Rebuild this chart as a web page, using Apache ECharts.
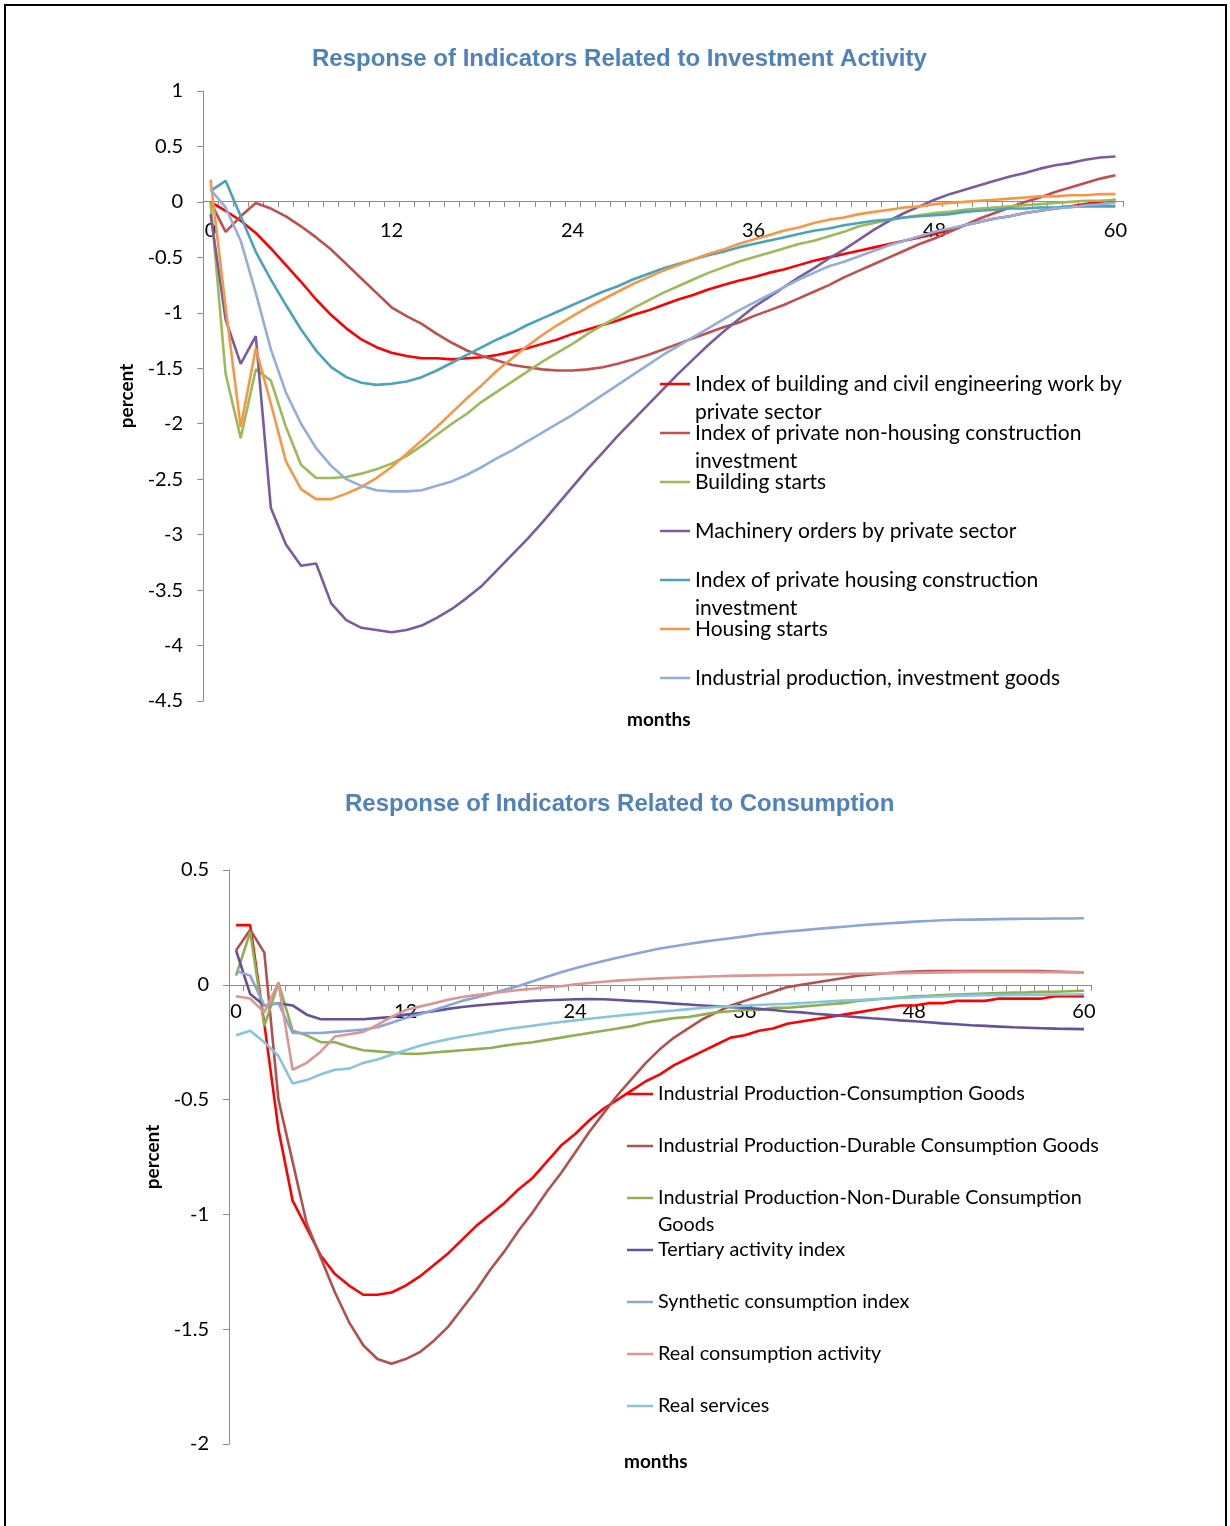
<!DOCTYPE html>
<html>
<head>
<meta charset="utf-8">
<script src="https://cdn.jsdelivr.net/npm/echarts@6/dist/echarts.min.js"></script>
<style>
  html, body { margin: 0; padding: 0; background: #fff; }
  #frame { position: absolute; left: 4px; top: 4px; width: 1223px; height: 1540px; border: 2px solid #000; box-sizing: border-box; }
  #chart { position: absolute; left: 0; top: 0; width: 1230px; height: 1526px; }
</style>
</head>
<body>
<div id="frame"></div>
<div id="chart"></div>
<script>
// ---------- DATA ----------
const months = Array.from({ length: 61 }, (_, i) => String(i));
const xTickLabels = ['0', '12', '24', '36', '48', '60'];

const topTitle = 'Response of Indicators Related to Investment Activity';
const bottomTitle = 'Response of Indicators Related to Consumption';

const topLabels = [
  'Index of building and civil engineering work by\nprivate sector',
  'Index of private non-housing construction\ninvestment',
  'Building starts',
  'Machinery orders by private sector',
  'Index of private housing construction\ninvestment',
  'Housing starts',
  'Industrial production, investment goods'
];
const bottomLabels = [
  'Industrial Production-Consumption Goods',
  'Industrial Production-Durable Consumption Goods',
  'Industrial Production-Non-Durable Consumption\nGoods',
  'Tertiary activity index',
  'Synthetic consumption index',
  'Real consumption activity',
  'Real services'
];

// Top chart series (months 0..60)
const buildingCivilWork = [0, -0.08, -0.17, -0.28, -0.42, -0.57, -0.72, -0.88, -1.02, -1.14, -1.24, -1.31, -1.36, -1.39, -1.41, -1.41, -1.42, -1.41, -1.40, -1.38,
  -1.35, -1.32, -1.28, -1.24, -1.19, -1.15, -1.11, -1.07, -1.02, -0.98, -0.93, -0.88, -0.84, -0.79, -0.75, -0.71, -0.68, -0.64, -0.61, -0.57,
  -0.53, -0.50, -0.47, -0.44, -0.41, -0.38, -0.35, -0.32, -0.29, -0.25, -0.21, -0.18, -0.15, -0.13, -0.10, -0.08, -0.06, -0.04, -0.02, 0.00, 0.02];
const nonHousingInvestment = [0, -0.27, -0.13, -0.01, -0.06, -0.13, -0.22, -0.32, -0.43, -0.56, -0.69, -0.82, -0.95, -1.03, -1.10, -1.19, -1.27, -1.34, -1.39, -1.43,
  -1.47, -1.49, -1.51, -1.52, -1.52, -1.51, -1.49, -1.46, -1.42, -1.38, -1.33, -1.28, -1.23, -1.18, -1.13, -1.09, -1.03, -0.98, -0.93, -0.87,
  -0.81, -0.75, -0.68, -0.62, -0.56, -0.50, -0.44, -0.38, -0.33, -0.27, -0.21, -0.15, -0.10, -0.05, 0.00, 0.04, 0.09, 0.13, 0.17, 0.21, 0.24];
const buildingStarts = [0, -1.55, -2.13, -1.51, -1.61, -2.03, -2.37, -2.49, -2.49, -2.48, -2.45, -2.41, -2.36, -2.29, -2.20, -2.10, -2.00, -1.91, -1.80, -1.71,
  -1.62, -1.53, -1.44, -1.36, -1.28, -1.19, -1.11, -1.04, -0.96, -0.89, -0.82, -0.76, -0.70, -0.64, -0.59, -0.54, -0.50, -0.46, -0.42, -0.38,
  -0.35, -0.31, -0.27, -0.22, -0.19, -0.16, -0.14, -0.12, -0.10, -0.09, -0.07, -0.06, -0.05, -0.04, -0.03, -0.02, -0.01, 0.00, 0.01, 0.01, 0.02];
const machineryOrders = [-0.11, -1.06, -1.46, -1.21, -2.76, -3.09, -3.28, -3.26, -3.62, -3.77, -3.84, -3.86, -3.88, -3.86, -3.82, -3.75, -3.67, -3.57, -3.46, -3.32,
  -3.18, -3.04, -2.89, -2.73, -2.57, -2.41, -2.26, -2.11, -1.97, -1.83, -1.69, -1.55, -1.42, -1.29, -1.17, -1.06, -0.95, -0.86, -0.77, -0.68,
  -0.60, -0.51, -0.43, -0.34, -0.25, -0.17, -0.10, -0.04, 0.02, 0.07, 0.11, 0.15, 0.19, 0.23, 0.26, 0.30, 0.33, 0.35, 0.38, 0.40, 0.41];
const housingInvestment = [0.10, 0.19, -0.13, -0.45, -0.70, -0.93, -1.15, -1.34, -1.49, -1.58, -1.63, -1.65, -1.64, -1.62, -1.58, -1.52, -1.45, -1.38, -1.31, -1.24,
  -1.18, -1.11, -1.05, -0.99, -0.93, -0.87, -0.81, -0.76, -0.70, -0.65, -0.60, -0.56, -0.52, -0.48, -0.45, -0.41, -0.38, -0.35, -0.32, -0.29,
  -0.26, -0.24, -0.21, -0.19, -0.17, -0.16, -0.14, -0.13, -0.12, -0.11, -0.09, -0.08, -0.07, -0.06, -0.06, -0.05, -0.05, -0.04, -0.04, -0.04, -0.04];
const housingStarts = [0.20, -0.95, -2.03, -1.32, -1.82, -2.34, -2.59, -2.68, -2.68, -2.63, -2.57, -2.49, -2.39, -2.27, -2.15, -2.03, -1.90, -1.77, -1.65, -1.52,
  -1.41, -1.30, -1.20, -1.11, -1.03, -0.95, -0.88, -0.81, -0.74, -0.68, -0.62, -0.57, -0.52, -0.47, -0.43, -0.38, -0.34, -0.30, -0.26, -0.23,
  -0.19, -0.16, -0.14, -0.11, -0.09, -0.07, -0.05, -0.04, -0.02, -0.01, 0.00, 0.01, 0.02, 0.03, 0.04, 0.05, 0.05, 0.06, 0.06, 0.07, 0.07];
const ipInvestmentGoods = [0.11, -0.05, -0.35, -0.82, -1.33, -1.72, -2.00, -2.22, -2.38, -2.50, -2.56, -2.60, -2.61, -2.61, -2.60, -2.56, -2.52, -2.46, -2.39, -2.31,
  -2.24, -2.16, -2.08, -2.00, -1.92, -1.83, -1.74, -1.65, -1.56, -1.47, -1.38, -1.30, -1.22, -1.14, -1.06, -0.98, -0.91, -0.84, -0.77, -0.70,
  -0.64, -0.58, -0.54, -0.49, -0.44, -0.39, -0.35, -0.31, -0.27, -0.24, -0.21, -0.18, -0.15, -0.13, -0.10, -0.08, -0.06, -0.05, -0.03, -0.02, -0.01];

// Bottom chart series (months 0..60)
const ipConsumption = [0.26, 0.26, -0.17, -0.63, -0.94, -1.06, -1.18, -1.26, -1.31, -1.35, -1.35, -1.34, -1.31, -1.27, -1.22, -1.17, -1.11, -1.05, -1.00, -0.95,
  -0.89, -0.84, -0.77, -0.70, -0.65, -0.59, -0.54, -0.50, -0.46, -0.42, -0.39, -0.35, -0.32, -0.29, -0.26, -0.23, -0.22, -0.20, -0.19, -0.17,
  -0.16, -0.15, -0.14, -0.13, -0.12, -0.11, -0.10, -0.09, -0.09, -0.08, -0.08, -0.07, -0.07, -0.07, -0.06, -0.06, -0.06, -0.06, -0.05, -0.05, -0.05];
const ipDurable = [0.15, 0.24, 0.14, -0.50, -0.77, -1.04, -1.19, -1.34, -1.47, -1.57, -1.63, -1.65, -1.63, -1.60, -1.55, -1.49, -1.41, -1.33, -1.24, -1.16,
  -1.07, -0.99, -0.90, -0.82, -0.73, -0.64, -0.56, -0.48, -0.41, -0.34, -0.28, -0.23, -0.19, -0.15, -0.12, -0.09, -0.07, -0.05, -0.03, -0.01,
  0.00, 0.01, 0.02, 0.03, 0.04, 0.045, 0.05, 0.055, 0.058, 0.06, 0.06, 0.06, 0.06, 0.06, 0.06, 0.06, 0.06, 0.06, 0.058, 0.056, 0.054];
const ipNonDurable = [0.04, 0.23, -0.18, 0.01, -0.20, -0.22, -0.25, -0.25, -0.27, -0.285, -0.29, -0.295, -0.30, -0.30, -0.295, -0.29, -0.285, -0.28, -0.275, -0.265,
  -0.257, -0.25, -0.24, -0.23, -0.22, -0.21, -0.20, -0.19, -0.18, -0.165, -0.155, -0.145, -0.14, -0.13, -0.12, -0.115, -0.11, -0.11, -0.10, -0.10,
  -0.095, -0.09, -0.085, -0.08, -0.07, -0.065, -0.06, -0.055, -0.05, -0.048, -0.045, -0.042, -0.04, -0.038, -0.036, -0.034, -0.033, -0.031, -0.03, -0.028, -0.026];
const tertiaryActivity = [0.15, -0.04, -0.09, -0.08, -0.09, -0.13, -0.15, -0.15, -0.15, -0.15, -0.145, -0.14, -0.13, -0.123, -0.115, -0.105, -0.097, -0.09, -0.085, -0.08,
  -0.075, -0.07, -0.067, -0.065, -0.063, -0.062, -0.063, -0.066, -0.07, -0.073, -0.077, -0.082, -0.086, -0.09, -0.094, -0.098, -0.10, -0.105, -0.11, -0.116,
  -0.12, -0.126, -0.131, -0.136, -0.141, -0.146, -0.15, -0.155, -0.159, -0.163, -0.168, -0.172, -0.176, -0.179, -0.182, -0.185, -0.187, -0.189, -0.191, -0.192, -0.193];
const syntheticConsumption = [0.06, 0.04, -0.09, -0.08, -0.21, -0.21, -0.21, -0.205, -0.20, -0.195, -0.185, -0.165, -0.145, -0.128, -0.11, -0.09, -0.07, -0.055, -0.04, -0.022,
  -0.005, 0.015, 0.035, 0.055, 0.072, 0.088, 0.104, 0.118, 0.132, 0.145, 0.158, 0.168, 0.178, 0.187, 0.195, 0.203, 0.211, 0.22, 0.226, 0.232,
  0.237, 0.243, 0.248, 0.253, 0.258, 0.263, 0.267, 0.271, 0.275, 0.278, 0.281, 0.283, 0.284, 0.285, 0.286, 0.287, 0.288, 0.288, 0.289, 0.289, 0.29];
const realConsumption = [-0.05, -0.06, -0.12, 0.01, -0.37, -0.34, -0.29, -0.225, -0.215, -0.205, -0.175, -0.14, -0.11, -0.095, -0.08, -0.065, -0.053, -0.045, -0.037, -0.03,
  -0.023, -0.017, -0.011, -0.006, 0.002, 0.008, 0.013, 0.018, 0.022, 0.025, 0.028, 0.031, 0.033, 0.035, 0.037, 0.039, 0.04, 0.041, 0.042, 0.043,
  0.044, 0.045, 0.046, 0.047, 0.048, 0.049, 0.05, 0.051, 0.052, 0.053, 0.054, 0.055, 0.056, 0.056, 0.056, 0.056, 0.056, 0.055, 0.055, 0.054, 0.054];
const realServices = [-0.22, -0.20, -0.25, -0.31, -0.43, -0.415, -0.39, -0.37, -0.365, -0.34, -0.325, -0.305, -0.285, -0.265, -0.25, -0.237, -0.225, -0.215, -0.205, -0.195,
  -0.186, -0.178, -0.17, -0.162, -0.155, -0.148, -0.141, -0.135, -0.129, -0.123, -0.117, -0.112, -0.106, -0.101, -0.097, -0.094, -0.091, -0.088, -0.085, -0.083,
  -0.08, -0.076, -0.072, -0.069, -0.066, -0.063, -0.06, -0.057, -0.055, -0.052, -0.05, -0.047, -0.046, -0.045, -0.045, -0.044, -0.044, -0.043, -0.042, -0.042, -0.041];

const topData = [buildingCivilWork, nonHousingInvestment, buildingStarts, machineryOrders, housingInvestment, housingStarts, ipInvestmentGoods];
const bottomData = [ipConsumption, ipDurable, ipNonDurable, tertiaryActivity, syntheticConsumption, realConsumption, realServices];

// ---------- STYLE ----------
const topColors = ['#FF0000', '#C0504D', '#9BBB59', '#7A5C9E', '#4AA3BD', '#F79646', '#92AEDA'];
const bottomColors = ['#FF0000', '#B3504E', '#8FB052', '#66509A', '#8BA5D6', '#D99694', '#86C5DA'];
const FONT = 'Lato, "Open Sans", sans-serif';
const TITLE_FONT = '"Liberation Sans", Arial, sans-serif';
const axisGrey = '#8C8C8C';

const chart = echarts.init(document.getElementById('chart'), null, { renderer: 'canvas' });

function nameOf(label) { return label.replace('\n', ' '); }

// Two-line entries get an empty leading line so the marker sits beside the first line.
function legendFor(label, left, iconY, itemWidth, lh, fontSize) {
  const two = label.indexOf('\n') >= 0;
  const shown = two ? ' \n' + label : label;
  return {
    data: [nameOf(label)],
    left: left,
    top: two ? iconY - 1.5 * lh : iconY - 0.5 * lh,
    orient: 'vertical',
    padding: 0,
    itemWidth: itemWidth,
    itemHeight: 2.5,
    icon: 'rect',
    selectedMode: false,
    formatter: function () { return shown; },
    textStyle: { fontFamily: FONT, fontSize: fontSize, color: '#000', lineHeight: lh }
  };
}

const topLegendY = [384, 433, 482, 531, 580, 629, 678];
const bottomLegendY = [1094, 1146, 1198, 1250, 1302, 1354, 1406];

const legends = [];
topLabels.forEach((l, i) => legends.push(legendFor(l, 660, topLegendY[i], 30, 28, 21)));
bottomLabels.forEach((l, i) => legends.push(legendFor(l, 627, bottomLegendY[i], 26, 27, 19.8)));

function xAxisFor(gridIndex, offset, margin) {
  return {
    type: 'category', gridIndex: gridIndex, data: months, boundaryGap: true,
    position: 'bottom', offset: offset,
    axisLine: { onZero: false, lineStyle: { color: axisGrey, width: 1 } },
    axisTick: { show: true, interval: 0, length: 6, lineStyle: { color: axisGrey } },
    axisLabel: {
      interval: 0, margin: margin, color: '#000', fontFamily: FONT, fontSize: 20,
      formatter: function (v) { return xTickLabels.indexOf(v) >= 0 ? v : ''; }
    },
    splitLine: { show: false }
  };
}
function yAxisFor(gridIndex, min, max, nameGap) {
  return {
    type: 'value', gridIndex: gridIndex, min: min, max: max, interval: 0.5,
    name: 'percent', nameLocation: 'middle', nameRotate: 90, nameGap: nameGap,
    nameTextStyle: { fontFamily: FONT, fontSize: 19, fontWeight: 'bold', color: '#000' },
    axisLine: { show: true, lineStyle: { color: axisGrey, width: 1 } },
    axisTick: { show: true, length: 6, lineStyle: { color: axisGrey } },
    axisLabel: { margin: 20, color: '#000', fontFamily: FONT, fontSize: 20 },
    splitLine: { show: false }
  };
}

const series = [];
topLabels.forEach((l, i) => series.push({
  name: nameOf(l), type: 'line', xAxisIndex: 0, yAxisIndex: 0, data: topData[i],
  symbol: 'none', smooth: false, color: topColors[i], lineStyle: { width: 2.6, color: topColors[i] }
}));
bottomLabels.forEach((l, i) => series.push({
  name: nameOf(l), type: 'line', xAxisIndex: 1, yAxisIndex: 1, data: bottomData[i],
  symbol: 'none', smooth: false, color: bottomColors[i], lineStyle: { width: 2.6, color: bottomColors[i] }
}));

const option = {
  animation: false,
  backgroundColor: 'transparent',
  title: [
    { text: topTitle, left: 307, top: 42, textStyle: { fontFamily: TITLE_FONT, fontSize: 24, fontWeight: 'bold', color: '#4F81BD' } },
    { text: bottomTitle, left: 340, top: 787, textStyle: { fontFamily: TITLE_FONT, fontSize: 24, fontWeight: 'bold', color: '#4F81BD' } }
  ],
  legend: legends,
  grid: [
    { left: 203, right: 107, top: 91, bottom: 1526 - 701 },
    { left: 229, right: 139, top: 870, bottom: 1526 - 1444 }
  ],
  // x axes sit on the zero line of their value axes (701-201 and 1444-985 px up from the grid bottom)
  xAxis: [xAxisFor(0, -500, 20), xAxisFor(1, -459, 17)],
  yAxis: [yAxisFor(0, -4.5, 1, 64), yAxisFor(1, -2, 0.5, 60)],
  graphic: [
    { type: 'text', left: 663 - 36, top: 710, style: { text: 'months', fontFamily: FONT, fontSize: 19, fontWeight: 'bold', fill: '#000' } },
    { type: 'text', left: 660 - 36, top: 1452, style: { text: 'months', fontFamily: FONT, fontSize: 19, fontWeight: 'bold', fill: '#000' } }
  ],
  series: series
};
chart.setOption(option);
</script>
</body>
</html>
